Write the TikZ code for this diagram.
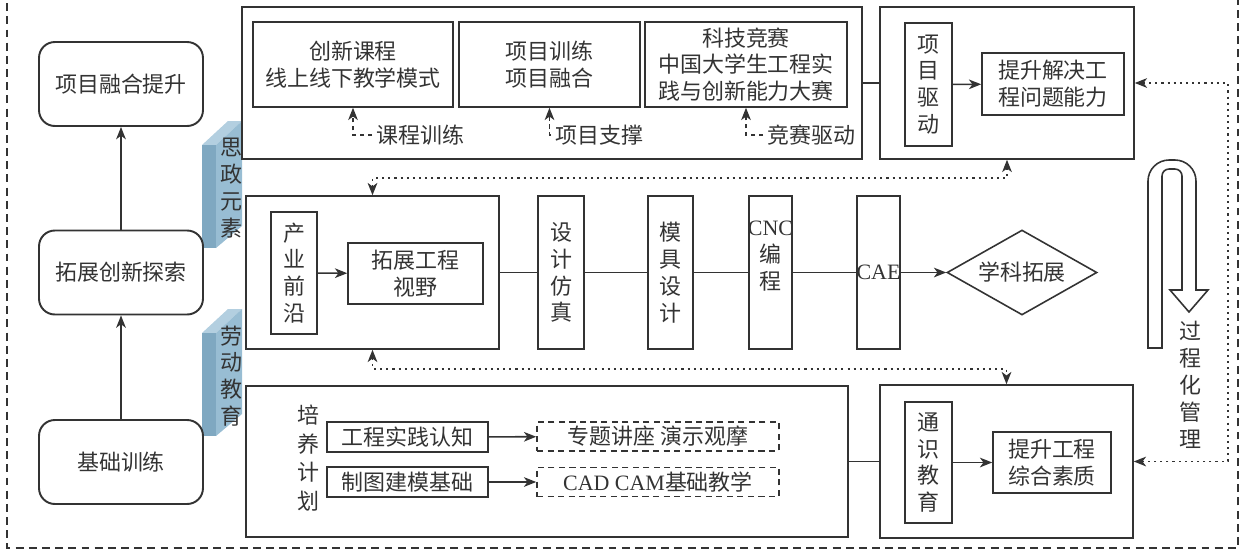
\documentclass[tikz,border=0pt]{standalone}
\usepackage{fontspec}
\setmainfont{Liberation Serif}
\newfontfamily\cjk{Noto Sans CJK SC}
\newfontfamily\lat{Liberation Serif}
\usepackage{tikz}
\usetikzlibrary{arrows.meta,shapes.geometric}
\definecolor{ink}{HTML}{333333}
\definecolor{slabtop}{HTML}{B3CFE0}
\definecolor{slabfront}{HTML}{7FA8C1}
\definecolor{slabside}{HTML}{98BDD3}

\begin{document}
\begin{tikzpicture}[x=0.02cm,y=-0.02cm,color=ink,
  font=\cjk\fontsize{12.5}{15.3}\selectfont,
  box/.style={draw,line width=0.9pt,inner sep=0pt,align=center},
  rbox/.style={box,rounded corners=9pt,line width=1.1pt,minimum width=3.28cm,minimum height=1.68cm},
  tall/.style={box,minimum height=3.06cm},
  dbox/.style={box,dash pattern=on 3.5pt off 2.5pt,minimum width=4.84cm,minimum height=0.58cm},
  link/.style={draw,line width=0.9pt},
  arr/.style={link,-{Stealth[length=7pt,width=5.5pt,inset=2pt]}},
  dlink/.style={arr,dash pattern=on 2.5pt off 2pt},
  dotlink/.style={link,dash pattern=on 1.2pt off 2.3pt,{Stealth[length=7pt,width=5.5pt,inset=2pt]}-{Stealth[length=7pt,width=5.5pt,inset=2pt]}}]
\useasboundingbox (0,0) rectangle (1242,555);
\draw[line width=1pt,dash pattern=on 4.5pt off 3pt] (7,-10) -- (7,548) -- (1238,548) -- (1238,-10);
\foreach \o/\n/\t in {0/sz/{思\\政\\元\\素},188/ld/{劳\\动\\教\\育}}{
  \fill[slabtop] (202,145+\o) -- (228,121+\o) -- (242,121+\o) -- (216,145+\o) -- cycle;
  \fill[slabfront] (202,145+\o) rectangle (216,248+\o);
  \fill[slabside] (216,145+\o) -- (242,121+\o) -- (242,226+\o) -- (216,248+\o) -- cycle;
  \node[align=center,inner sep=0pt] at (231,188+\o) (\n) {\t};
};
\node[rbox] at (121,84) (xm) {项目融合提升};
\node[rbox] at (121,272.5) (tz) {拓展创新探索};
\node[rbox] at (121,462) (jc) {基础训练};
\draw[arr] (jc) -- (tz);
\draw[arr] (tz) -- (xm);
\node[box,minimum width=12.4cm,minimum height=3.04cm] at (552,83) (tc) {};
\node[box,minimum width=4cm,minimum height=1.7cm] at (353,64.5) (c1) {创新课程\\线上线下教学模式};
\node[box,minimum width=3.62cm,minimum height=1.7cm] at (549.5,64.5) (c2) {项目训练\\项目融合};
\node[box,minimum width=4.04cm,minimum height=1.7cm] at (746,64.5) (c3) {科技竞赛\\中国大学生工程实\\践与创新能力大赛};
\node[anchor=west,inner sep=2.5pt] at (372,135) (l1) {课程训练};
\node[anchor=west,inner sep=2.5pt] at (551,135) (l2) {项目支撑};
\node[anchor=west,inner sep=2.5pt] at (763,135) (l3) {竞赛驱动};
\draw[dlink] (l1.west) -| (c1.south);
\draw[dlink] (l2.west) -| (c2.south);
\draw[dlink] (l3.west) -| (c3.south);
\node[box,minimum width=5.08cm,minimum height=3.04cm] at (1007,83) (rt) {};
\node[box,minimum width=0.94cm,minimum height=2.46cm] at (928.5,84.5) (xq) {项\\目\\驱\\动};
\node[box,minimum width=2.84cm,minimum height=1.24cm] at (1053,84) (ts) {提升解决工\\程问题能力};
\draw[link] (tc) -- (rt);
\draw[arr] (xq) -- (ts);
\node[box,minimum width=5.06cm,minimum height=3.06cm] at (372.5,272.5) (pm) {};
\node[box,minimum width=0.92cm,minimum height=2.44cm] at (294,273) (cy) {产\\业\\前\\沿};
\node[box,minimum width=2.7cm,minimum height=1.22cm] at (415.5,273.5) (tg) {拓展工程\\视野};
\draw[arr] (cy) -- (tg);
\foreach \x/\w/\n/\t in {561/0.92cm/s1/{设\\计\\仿\\真},670.5/0.9cm/s2/{模\\具\\设\\计},770.5/0.86cm/s3/{\makebox[0pt]{\lat CNC}\\编\\程\\\strut},878.5/0.86cm/s4/{\makebox[0pt]{\lat CAE}}}{
  \node[tall,minimum width=\w] at (\x,272.5) (\n) {\t};
};
\foreach \a/\b in {pm/s1,s1/s2,s2/s3,s3/s4}{
  \draw[link] (\a) -- (\b);
};
\node[box,diamond,aspect=1.76,minimum width=3cm,minimum height=1.7cm] at (1022,272.5) (dia) {学科拓展};
\draw[arr] (s4) -- (dia);
\node[box,minimum width=12.04cm,minimum height=3.02cm] at (547,461.5) (pb) {};
\node[align=center,inner sep=0pt,font=\cjk\fontsize{12.5}{16.2}\selectfont] at (308,458) (py) {培\\养\\计\\划};
\node[box,minimum width=3.22cm,minimum height=0.6cm] at (407.5,437) (g1) {工程实践认知};
\node[box,minimum width=3.22cm,minimum height=0.6cm] at (407.5,482) (g2) {制图建模基础};
\node[dbox] at (658,436.5) (d1) {专题讲座 演示观摩};
\node[dbox] at (658,482) (d2) {{\lat CAD CAM}基础教学};
\draw[arr] (g1) -- (d1);
\draw[arr] (g2) -- (d2);
\node[box,minimum width=5.06cm,minimum height=3.06cm] at (1006.5,461.5) (rb) {};
\node[box,minimum width=0.94cm,minimum height=2.42cm] at (928.5,462.5) (tx) {通\\识\\教\\育};
\node[box,minimum width=2.36cm,minimum height=1.22cm] at (1052,462.5) (tp) {提升工程\\综合素质};
\draw[link] (pb) -- (rb);
\draw[arr] (tx) -- (tp);
\draw[dotlink] (pm.north) -- ++(0,-17) -| (rt.south);
\draw[dotlink] (pm.south) -- ++(0,19) -| (rb.north);
\draw[dotlink] (rt.east) -- ++(93,0) |- (rb.east);
\draw[line width=0.9pt] (1148,348) [rounded corners=12pt] -- (1148,160) -- (1196,160) [sharp corners] -- (1196,290) -- (1208,290) -- (1189,312) -- (1170,290) -- (1182,290) [rounded corners=4pt] -- (1182,169) -- (1162,169) [sharp corners] -- (1162,348) -- cycle;
\node[align=center,inner sep=0pt] at (1190,385) (gc) {过\\程\\化\\管\\理};
\end{tikzpicture}
\end{document}
